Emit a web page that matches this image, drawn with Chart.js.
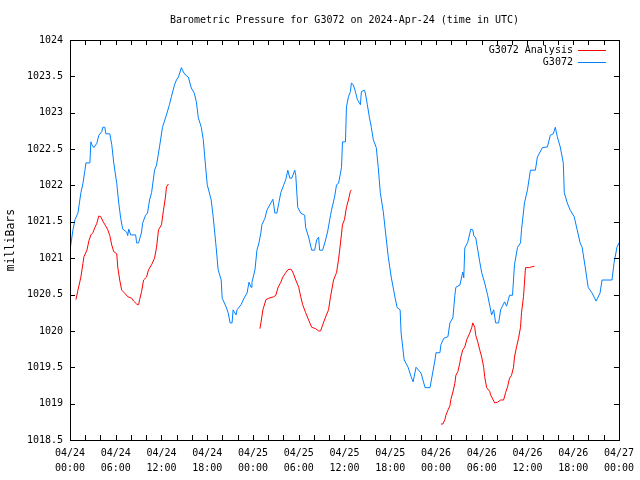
<!DOCTYPE html>
<html>
<head>
<meta charset="utf-8">
<script src="https://cdn.jsdelivr.net/npm/chart.js@4/dist/chart.umd.min.js"></script>
<style>
  html, body { margin: 0; padding: 0; background: #ffffff; }
  canvas { display: block; }
</style>
</head>
<body>
<canvas id="c" width="640" height="480"></canvas>
<script>
// ---- Data (hours since 2024-04-24 00:00 UTC, pressure in mb) ----
const chartTitle = 'Barometric Pressure for G3072 on 2024-Apr-24 (time in UTC)';
const yAxisTitle = 'milliBars';
const seriesNames = ['G3072 Analysis', 'G3072'];
const seriesColors = ['#ff0000', '#0080ff'];

const xTickDates = ['04/24','04/24','04/24','04/24','04/25','04/25','04/25','04/25','04/26','04/26','04/26','04/26','04/27'];
const xTickTimes = ['00:00','06:00','12:00','18:00','00:00','06:00','12:00','18:00','00:00','06:00','12:00','18:00','00:00'];

const blueHours = [0,0.39,0.65,1.04,1.43,1.70,1.96,2.09,2.61,2.74,2.87,3.13,3.52,3.78,4.17,4.30,4.57,4.70,5.22,5.48,5.74,6.13,6.39,6.65,6.91,7.43,7.57,7.70,7.96,8.61,8.74,9.00,9.39,9.52,9.91,10.17,10.43,10.70,11.09,11.35,11.74,12.13,12.65,13.04,13.30,13.70,13.96,14.22,14.61,14.87,15.13,15.52,15.91,16.30,16.57,16.83,17.22,17.48,17.74,18.00,18.52,18.78,19.17,19.43,19.83,19.96,20.48,20.74,21.00,21.26,21.39,21.78,21.91,22.43,22.83,23.22,23.48,23.74,23.87,24.26,24.52,24.78,25.04,25.17,25.57,25.83,26.35,26.61,26.87,27.13,27.39,27.65,28.04,28.30,28.57,28.83,29.09,29.48,29.61,29.87,30.26,30.78,30.91,31.30,31.70,32.09,32.35,32.61,32.74,33.13,33.52,33.78,34.17,34.30,34.70,34.96,35.22,35.48,35.61,35.74,36.13,36.26,36.52,36.78,36.91,37.17,37.43,37.70,38.09,38.22,38.61,38.74,39.00,39.26,39.52,39.78,40.17,40.43,40.70,41.09,41.35,41.74,42.13,42.65,42.91,43.30,43.43,43.83,44.35,44.74,45.00,45.39,46.04,46.57,47.22,47.87,48.00,48.52,48.65,49.04,49.57,49.83,50.22,50.48,50.61,51.13,51.52,51.65,51.78,52.17,52.57,52.83,52.96,53.22,53.74,54.00,54.39,54.78,55.30,55.57,55.83,56.22,56.48,57.00,57.26,57.65,58.04,58.30,58.70,59.09,59.22,59.61,60.00,60.39,61.04,61.30,61.96,62.61,63.00,63.39,63.65,63.91,64.30,64.70,64.83,65.22,65.61,66.13,66.52,66.91,67.17,67.57,67.96,68.48,69.00,69.52,69.78,71.09,71.35,71.74,72.00];
const blueValues = [1021.11,1021.39,1021.53,1021.62,1021.90,1022.03,1022.21,1022.31,1022.31,1022.60,1022.56,1022.52,1022.58,1022.69,1022.74,1022.80,1022.80,1022.71,1022.71,1022.56,1022.31,1022.03,1021.76,1021.55,1021.40,1021.36,1021.31,1021.40,1021.32,1021.32,1021.21,1021.21,1021.36,1021.48,1021.59,1021.62,1021.80,1021.90,1022.21,1022.28,1022.53,1022.80,1022.97,1023.11,1023.22,1023.38,1023.45,1023.49,1023.62,1023.56,1023.52,1023.49,1023.34,1023.27,1023.15,1022.93,1022.80,1022.63,1022.31,1022.01,1021.80,1021.57,1021.15,1020.84,1020.70,1020.45,1020.33,1020.25,1020.11,1020.11,1020.29,1020.22,1020.29,1020.36,1020.45,1020.52,1020.67,1020.60,1020.67,1020.84,1021.11,1021.21,1021.35,1021.46,1021.55,1021.66,1021.76,1021.81,1021.62,1021.62,1021.76,1021.90,1022.01,1022.08,1022.21,1022.10,1022.10,1022.21,1022.14,1021.70,1021.62,1021.59,1021.42,1021.29,1021.11,1021.11,1021.25,1021.29,1021.11,1021.11,1021.25,1021.36,1021.59,1021.66,1021.84,1022.01,1022.03,1022.17,1022.25,1022.60,1022.60,1023.08,1023.22,1023.29,1023.41,1023.38,1023.29,1023.18,1023.11,1023.29,1023.31,1023.27,1023.11,1022.94,1022.80,1022.63,1022.52,1022.25,1021.90,1021.64,1021.39,1021.02,1020.74,1020.45,1020.32,1020.29,1019.97,1019.60,1019.50,1019.37,1019.30,1019.50,1019.42,1019.22,1019.22,1019.60,1019.70,1019.70,1019.81,1019.90,1019.92,1020.11,1020.18,1020.49,1020.60,1020.63,1020.81,1020.73,1021.14,1021.22,1021.40,1021.39,1021.31,1021.28,1020.95,1020.80,1020.66,1020.49,1020.22,1020.29,1020.11,1020.11,1020.29,1020.40,1020.34,1020.49,1020.49,1020.91,1021.15,1021.21,1021.39,1021.76,1021.94,1022.21,1022.21,1022.39,1022.52,1022.53,1022.69,1022.71,1022.80,1022.67,1022.53,1022.31,1021.90,1021.76,1021.66,1021.57,1021.39,1021.21,1021.15,1020.88,1020.60,1020.52,1020.41,1020.52,1020.70,1020.70,1020.93,1021.15,1021.21];

const redHours = [0.78,1.04,1.43,1.70,1.83,2.22,2.48,2.74,3.00,3.26,3.52,3.78,4.04,4.30,4.70,4.96,5.22,5.48,5.74,6.13,6.26,6.52,6.78,7.17,7.57,8.09,8.35,8.74,9.00,9.13,9.39,9.65,10.04,10.30,10.70,11.09,11.35,11.61,12.00,12.26,12.52,12.65,12.91,
  18.00,
  24.91,25.04,25.30,25.70,26.09,26.74,27.00,27.26,27.65,27.91,28.30,28.57,28.96,29.22,29.61,30.00,30.26,30.52,30.91,31.30,31.70,32.22,32.61,32.87,33.13,33.52,33.91,34.17,34.57,34.83,34.96,35.22,35.48,35.74,36.00,36.26,36.52,36.78,36.91,
  42.00,
  48.65,48.91,49.17,49.30,49.57,49.83,49.96,50.22,50.48,50.61,50.87,51.13,51.26,51.52,51.78,52.04,52.43,52.70,52.83,53.09,53.22,53.48,53.74,54.00,54.26,54.39,54.65,55.04,55.17,55.70,56.09,56.48,56.87,57.13,57.39,57.65,57.91,58.17,58.30,58.57,58.83,59.09,59.22,59.48,59.61,59.74,60.26,60.52,60.91];
const redValues = [1020.43,1020.56,1020.74,1020.93,1021.02,1021.11,1021.24,1021.32,1021.35,1021.42,1021.48,1021.58,1021.57,1021.51,1021.44,1021.39,1021.31,1021.18,1021.09,1021.06,1020.88,1020.70,1020.56,1020.52,1020.47,1020.45,1020.41,1020.37,1020.36,1020.43,1020.54,1020.70,1020.74,1020.84,1020.91,1021.00,1021.15,1021.39,1021.46,1021.66,1021.84,1021.98,1022.02,
  null,
  1020.03,1020.11,1020.29,1020.43,1020.45,1020.47,1020.49,1020.59,1020.67,1020.74,1020.80,1020.84,1020.85,1020.81,1020.70,1020.60,1020.47,1020.36,1020.25,1020.15,1020.05,1020.03,1020.00,1020.00,1020.08,1020.19,1020.29,1020.47,1020.70,1020.77,1020.80,1020.98,1021.21,1021.46,1021.53,1021.70,1021.80,1021.92,1021.94,
  null,
  1018.72,1018.72,1018.78,1018.84,1018.91,1018.97,1019.06,1019.16,1019.28,1019.39,1019.44,1019.56,1019.64,1019.74,1019.78,1019.88,1019.97,1020.05,1020.11,1020.05,1019.94,1019.85,1019.74,1019.64,1019.50,1019.37,1019.22,1019.17,1019.12,1019.01,1019.02,1019.05,1019.05,1019.15,1019.23,1019.35,1019.39,1019.50,1019.64,1019.78,1019.90,1020.05,1020.25,1020.47,1020.66,1020.87,1020.87,1020.88,1020.89];

const xMin = 0, xMax = 72, xStep = 6, xMinorStep = 2;
const yMin = 1018.5, yMax = 1024, yStep = 0.5;

// ---- Build datasets ----
const toPoints = (xs, ys) => xs.map((x, i) => ({ x: x, y: ys[i] }));

const FONT = '"DejaVu Sans Mono", "Liberation Mono", monospace';

const frame = {
  id: 'frame',
  afterDatasetsDraw(chart) {
    const { ctx, chartArea: a, scales } = chart;
    ctx.save();
    ctx.strokeStyle = '#000000';
    ctx.lineWidth = 1;
    ctx.beginPath();
    // inward ticks
    const tl = 5;
    for (let h = xMin; h <= xMax; h += xMinorStep) {
      const px = Math.round(scales.x.getPixelForValue(h)) + 0.5;
      ctx.moveTo(px, a.bottom); ctx.lineTo(px, a.bottom - tl);
      ctx.moveTo(px, a.top); ctx.lineTo(px, a.top + tl);
    }
    for (let v = yMin; v <= yMax + 1e-9; v += yStep) {
      const py = Math.round(scales.y.getPixelForValue(v)) + 0.5;
      ctx.moveTo(a.left, py); ctx.lineTo(a.left + tl, py);
      ctx.moveTo(a.right, py); ctx.lineTo(a.right - tl, py);
    }
    ctx.stroke();
    ctx.strokeRect(Math.round(a.left) + 0.5, Math.round(a.top) + 0.5,
                   Math.round(a.right - a.left), Math.round(a.bottom - a.top));
    // legend
    ctx.font = '10px ' + FONT;
    ctx.textAlign = 'right';
    ctx.textBaseline = 'middle';
    chart.data.datasets.forEach((ds, i) => {
      const y = a.top + 10 + i * 12;
      ctx.fillStyle = '#000000';
      ctx.fillText(ds.label, a.right - 46, y);
      ctx.strokeStyle = ds.borderColor;
      ctx.beginPath();
      ctx.moveTo(a.right - 41, Math.round(y) + 0.5);
      ctx.lineTo(a.right - 13, Math.round(y) + 0.5);
      ctx.stroke();
    });
    ctx.restore();
  }
};

new Chart(document.getElementById('c'), {
  type: 'line',
  data: {
    datasets: [
      { label: seriesNames[0], data: toPoints(redHours, redValues), borderColor: seriesColors[0],
        borderWidth: 1, pointRadius: 0, tension: 0, fill: false, spanGaps: false },
      { label: seriesNames[1], data: toPoints(blueHours, blueValues), borderColor: seriesColors[1],
        borderWidth: 1, pointRadius: 0, tension: 0, fill: false }
    ]
  },
  options: {
    responsive: false,
    animation: false,
    devicePixelRatio: 1,
    layout: { padding: { left: 0, right: 18, top: 0, bottom: 0 } },
    plugins: {
      legend: { display: false },
      tooltip: { enabled: false },
      title: {
        display: true, text: chartTitle, fullSize: false, color: '#000000',
        font: { family: FONT, size: 10, weight: 'normal', lineHeight: 1.2 },
        padding: { top: 14, bottom: 14 }
      }
    },
    scales: {
      x: {
        type: 'linear', min: xMin, max: xMax,
        grid: { display: false, drawTicks: false },
        border: { display: false },
        afterFit: (s) => { s.height = 40; },
        ticks: {
          stepSize: xStep, autoSkip: false, maxRotation: 0, minRotation: 0,
          padding: 6, color: '#000000',
          font: { family: FONT, size: 10, lineHeight: 1.5 },
          callback: (v) => { const i = Math.round((v - xMin) / xStep); return [xTickDates[i], xTickTimes[i]]; }
        }
      },
      y: {
        type: 'linear', min: yMin, max: yMax,
        grid: { display: false, drawTicks: false },
        border: { display: false },
        afterFit: (s) => { s.width = 70; },
        title: {
          display: true, text: yAxisTitle, color: '#000000',
          font: { family: FONT, size: 11.5 }, padding: { top: 4, bottom: 0 }
        },
        ticks: {
          stepSize: yStep, padding: 7, color: '#000000',
          font: { family: FONT, size: 10 },
          callback: (v) => String(Math.round(v * 10) / 10)
        }
      }
    }
  },
  plugins: [frame]
});
</script>
</body>
</html>
